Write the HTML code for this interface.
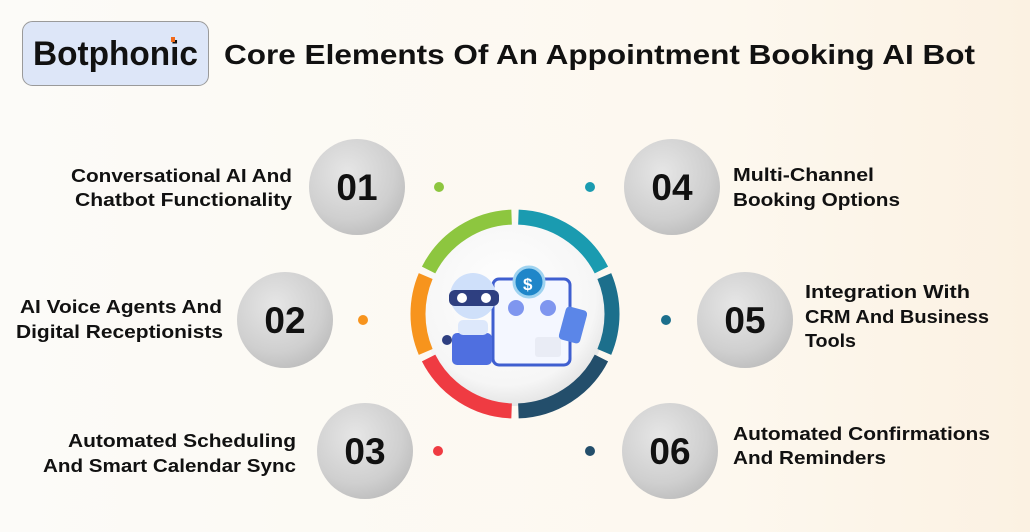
<!DOCTYPE html>
<html><head><meta charset="utf-8"><style>
html,body{margin:0;padding:0;background:#fcfbf8}
svg{display:block}
text{font-family:"Liberation Sans",sans-serif;font-weight:bold;fill:#111}
</style></head><body>
<svg width="1030" height="532" viewBox="0 0 1030 532" xmlns="http://www.w3.org/2000/svg">
<defs>
<radialGradient id="g" cx="0.4" cy="0.35" r="0.7"><stop offset="0" stop-color="#e6e6e6"/><stop offset="0.7" stop-color="#cfcfcf"/><stop offset="1" stop-color="#bdbdbd"/></radialGradient>
<radialGradient id="w" cx="0.45" cy="0.4" r="0.65"><stop offset="0" stop-color="#ffffff"/><stop offset="0.75" stop-color="#f6f6f6"/><stop offset="1" stop-color="#dedede"/></radialGradient>
<linearGradient id="bg" x1="0" y1="0" x2="1" y2="0"><stop offset="0" stop-color="#fcfbf8"/><stop offset="0.7" stop-color="#fdf8ef"/><stop offset="1" stop-color="#fbf1e2"/></linearGradient>
</defs>
<rect width="1030" height="532" fill="url(#bg)"/>
<rect x="22.5" y="21.5" width="186" height="64" rx="10" fill="#dde6f8" stroke="#9a9a9a"/>
<text x="33" y="65" font-size="34" textLength="165" lengthAdjust="spacingAndGlyphs" fill="#1a1a1a">Botphonic</text>
<rect x="171" y="37" width="4" height="5" fill="#f26a1b"/>
<text x="224" y="64" font-size="28" textLength="751" lengthAdjust="spacingAndGlyphs">Core Elements Of An Appointment Booking AI Bot</text>

<circle cx="515" cy="314" r="92" fill="url(#w)"/>
<g fill="none" stroke-width="15">
<path d="M518.4 217.1 A97 97 0 0 1 601.4 270" stroke="#1a9bb0"/>
<path d="M428.6 270 A97 97 0 0 1 511.6 217.1" stroke="#8dc63f"/>
<path d="M425.7 351.9 A97 97 0 0 1 425.7 276.1" stroke="#f7941d"/>
<path d="M511.6 410.9 A97 97 0 0 1 428.6 358" stroke="#ef3b42"/>
<path d="M601.4 358 A97 97 0 0 1 518.4 410.9" stroke="#234e6b"/>
<path d="M604.3 276.1 A97 97 0 0 1 604.3 351.9" stroke="#1c6f8c"/>
</g>
<!-- illustration -->
<rect x="493" y="279" width="77" height="86" rx="6" fill="#f4f7ff" stroke="#3f5fd0" stroke-width="3"/>
<circle cx="529" cy="282" r="15" fill="#1f86c9" stroke="#9fd3f0" stroke-width="3"/>
<text x="523" y="290" font-size="17" style="fill:#fff">$</text>
<circle cx="516" cy="308" r="8" fill="#7f96ef"/><circle cx="548" cy="308" r="8" fill="#7f96ef"/>
<rect x="535" y="337" width="26" height="20" rx="3" fill="#e9ecf5"/>
<rect x="562" y="308" width="22" height="34" rx="4" fill="#5b86e8" transform="rotate(15 573 325)"/>
<circle cx="473" cy="296" r="23" fill="#cfe0fa"/>
<rect x="449" y="290" width="50" height="16" rx="6" fill="#2e3f80"/>
<circle cx="462" cy="298" r="5" fill="#fff"/><circle cx="486" cy="298" r="5" fill="#fff"/>
<rect x="452" y="333" width="40" height="32" rx="5" fill="#4f6fe0"/>
<rect x="458" y="320" width="30" height="15" rx="5" fill="#dde8fb"/>
<circle cx="447" cy="340" r="5" fill="#2e3f80"/>

<g fill="url(#g)">
<circle cx="357" cy="187" r="48"/><circle cx="672" cy="187" r="48"/>
<circle cx="285" cy="320" r="48"/><circle cx="745" cy="320" r="48"/>
<circle cx="365" cy="451" r="48"/><circle cx="670" cy="451" r="48"/>
</g>
<g font-size="37" text-anchor="middle">
<text x="357" y="200">01</text><text x="672" y="200">04</text>
<text x="285" y="333">02</text><text x="745" y="333">05</text>
<text x="365" y="464">03</text><text x="670" y="464">06</text>
</g>
<circle cx="439" cy="187" r="5" fill="#8dc63f"/>
<circle cx="590" cy="187" r="5" fill="#1a9bb0"/>
<circle cx="363" cy="320" r="5" fill="#f7941d"/>
<circle cx="666" cy="320" r="5" fill="#1c6f8c"/>
<circle cx="438" cy="451" r="5" fill="#ef3b42"/>
<circle cx="590" cy="451" r="5" fill="#234e6b"/>

<g font-size="18" lengthAdjust="spacingAndGlyphs">
<text x="71" y="182" textLength="221" lengthAdjust="spacingAndGlyphs">Conversational AI And</text>
<text x="75" y="206" textLength="217" lengthAdjust="spacingAndGlyphs">Chatbot Functionality</text>
<text x="20" y="313" textLength="202" lengthAdjust="spacingAndGlyphs">AI Voice Agents And</text>
<text x="16" y="338" textLength="207" lengthAdjust="spacingAndGlyphs">Digital Receptionists</text>
<text x="68" y="447" textLength="228" lengthAdjust="spacingAndGlyphs">Automated Scheduling</text>
<text x="43" y="472" textLength="253" lengthAdjust="spacingAndGlyphs">And Smart Calendar Sync</text>
<text x="733" y="181" textLength="141" lengthAdjust="spacingAndGlyphs">Multi-Channel</text>
<text x="733" y="206" textLength="167" lengthAdjust="spacingAndGlyphs">Booking Options</text>
<text x="805" y="298" textLength="165" lengthAdjust="spacingAndGlyphs">Integration With</text>
<text x="805" y="323" textLength="184" lengthAdjust="spacingAndGlyphs">CRM And Business</text>
<text x="805" y="347" textLength="51" lengthAdjust="spacingAndGlyphs">Tools</text>
<text x="733" y="440" textLength="257" lengthAdjust="spacingAndGlyphs">Automated Confirmations</text>
<text x="733" y="464" textLength="153" lengthAdjust="spacingAndGlyphs">And Reminders</text>
</g>
</svg>
</body></html>
